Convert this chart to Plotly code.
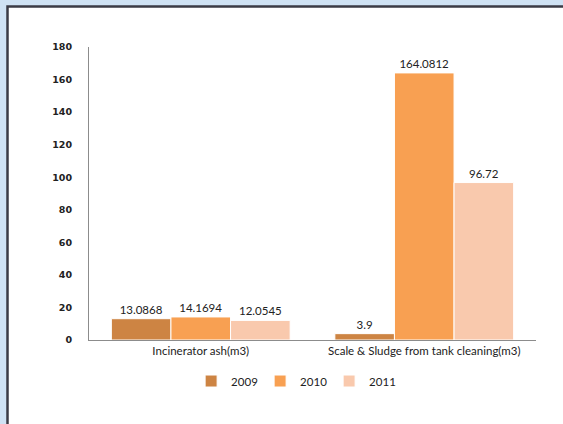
import plotly.graph_objects as go

categories = ["Incinerator ash(m3)", "Scale & Sludge from tank cleaning(m3)"]
years = ["2009", "2010", "2011"]
values_2009 = [13.0868, 3.9]
values_2010 = [14.1694, 164.0812]
values_2011 = [12.0545, 96.72]
colors = ["#cd8443", "#f8a052", "#f9c9ad"]
y_ticks = [0, 20, 40, 60, 80, 100, 120, 140, 160, 180]

series = [values_2009, values_2010, values_2011]

fig = go.Figure()
for year, vals, col in zip(years, series, colors):
    fig.add_trace(go.Bar(
        name=year,
        x=categories,
        y=vals,
        marker=dict(color=col, line=dict(color="#ffffff", width=1)),
        text=[str(v) for v in vals],
        textposition="outside",
        cliponaxis=False,
        textfont=dict(family="Lato, Open Sans, sans-serif", size=11.5, color="#222222"),
    ))

# plot-area geometry in pixels (used to place the framed white panel)
W, H = 563, 424
L, R, T, B = 89, 27, 47, 84
pw, ph = W - L - R, H - T - B

fig.add_shape(
    type="rect", xref="paper", yref="paper", layer="below",
    x0=(7.5 - L) / pw, x1=(W + 20 - L) / pw,
    y0=-(B + 20) / ph, y1=(H - B - 6.5) / ph,
    fillcolor="#ffffff", line=dict(color="#3b3b45", width=2.5),
)

fig.update_layout(
    width=W, height=H,
    margin=dict(l=L, r=R, t=T, b=B),
    paper_bgcolor="#cfe2f4",
    plot_bgcolor="rgba(0,0,0,0)",
    barmode="group",
    bargap=0.2,
    bargroupgap=0,
    showlegend=True,
    legend=dict(
        orientation="h", x=0.46, xanchor="center", y=-0.14, yanchor="middle",
        font=dict(family="Lato, Open Sans, sans-serif", size=11.5, color="#222222"),
        itemwidth=30, entrywidth=24, entrywidthmode="pixels",
        traceorder="normal", bgcolor="rgba(0,0,0,0)",
    ),
    xaxis=dict(
        showline=True, linecolor="#8c8c8c", linewidth=1,
        ticks="", showgrid=False,
        tickfont=dict(family="Lato, Open Sans, sans-serif", size=11.5, color="#222222"),
    ),
    yaxis=dict(
        range=[0, 180], tickvals=y_ticks,
        showline=True, linecolor="#8c8c8c", linewidth=1,
        ticks="", showgrid=False, zeroline=False,
        ticklabelstandoff=14,
        tickfont=dict(family="DejaVu Sans, sans-serif", size=9.5, color="#222222", weight="bold"),
    ),
)

fig.write_html("out.html")
